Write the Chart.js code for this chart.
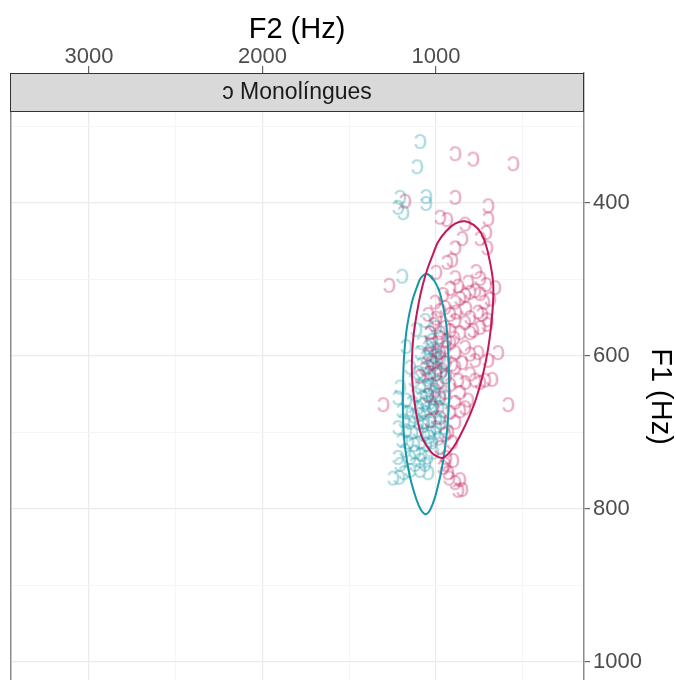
<!DOCTYPE html>
<html><head><meta charset="utf-8">
<style>html,body{margin:0;padding:0;background:#fff;overflow:hidden}#wrap{width:676px;height:720px;position:relative}</style>
<script src="https://cdn.jsdelivr.net/npm/chart.js@4/dist/chart.umd.min.js"></script>
</head><body><div id="wrap"><canvas id="c"></canvas></div>
<script>
const panelTitle = 'ɔ Monolíngues';
const xTitle = 'F2 (Hz)';
const yTitle = 'F1 (Hz)';
const xTickLabels = [1000, 2000, 3000];
const xGridValues = [500, 1000, 1500, 2000, 2500, 3000];
const yTickLabels = [400, 600, 800, 1000];
const yGridValues = [300, 400, 500, 600, 700, 800, 900, 1000];
const xLimits = [147, 3455];
const yLimits = [230.1, 1075.9];

// group 1 (pink)
const pinkF2 = [890,787,556,890,700,1179,977,937,700,833,712,850,890,706,746,769,1271,1305,585,643,
1000,937,908,890,816,746,712,660,960,1006,890,862,833,804,775,746,723,689,919,873,
1046,1000,977,948,919,890,833,804,758,735,706,948,977,1035,919,862,804,787,746,706,1012,885,827,942,896,988,1035,
919,948,977,890,833,804,758,994,1023,1046,948,908,890,850,775,700,804,775,746,718,677,833,873,919,965,1000,1035,1063,1092,948,
862,890,833,816,948,977,919,862,1006,1046,1017,977,1035,
890,931,908,948,977,942,960,931,890,862,850,873,925,948,902];
const pinkF1 = [335,342,348,392,403,397,418,421,420,427,438,446,458,458,446,489,507,663,663,595,
490,477,474,497,503,498,506,510,519,529,529,524,520,516,514,518,529,525,511,508,
545,550,540,536,545,553,556,549,542,545,552,562,569,569,566,569,569,566,562,558,558,542,537,579,576,582,584,
582,588,595,595,588,597,595,603,608,597,608,610,614,608,605,605,623,631,634,631,630,634,631,637,618,623,621,616,626,627,
647,660,667,657,647,654,673,671,644,650,667,680,684,
686,699,712,702,719,732,745,752,765,761,774,775,759,741,736];

// group 2 (teal)
const tealF2 = [1092,1110,1208,1219,1190,1058,1058,1196,
1115,1173,1063,1035,1023,1000,977,1081,1046,
1092,1058,1029,1000,977,954,1012,1046,1081,1104,1069,1035,1000,971,942,988,1023,1058,1092,1127,1150,1208,
1115,1081,1046,1012,977,948,1035,1069,1104,1138,1173,1219,1196,1161,1127,1092,1058,1023,988,960,1000,1035,1069,1104,
1150,1184,1219,1173,1138,1104,1069,1035,1000,977,954,1092,1127,1161,1196,1058,1023,988,1121,1086,1052,1017,1179,1219,1150,1063,1092,
1248,1213,1184,1150,1121,1208,1092,1046,
1030,1010,1040,1005,1025,1050,995,1015,1060,1075,1040,1005];
const tealF1 = [319,352,392,405,412,391,400,495,
565,587,553,569,579,562,575,582,588,
595,601,597,592,601,608,610,614,610,621,623,627,623,621,627,634,637,638,640,631,614,640,
650,654,651,647,650,654,660,663,667,660,657,654,671,673,678,676,673,671,667,671,680,684,686,686,
686,684,693,697,699,697,702,699,693,686,693,712,715,712,710,715,712,707,725,728,732,725,723,732,732,741,736,
759,758,752,749,741,741,749,752,
605,600,640,655,665,630,615,590,660,690,705,700];

// ellipse outlines
const tealEllipseF2 = [1052,1012,983,965,942,931,925,925,937,960,994,1029,1058,1087,1115,1150,1179,1190,1190,1184,1167,1138,1110,1087];
const tealEllipseF1 = [493,501,514,529,556,588,628,660,699,739,775,799,807,801,786,758,719,680,641,601,562,529,510,498];
const pinkEllipseF2 = [833,781,741,712,689,671,671,683,700,729,769,810,856,902,960,1012,1040,1081,1110,1127,1138,1138,1127,1098,1075,1046,1017,988,942,890];
const pinkEllipseF1 = [424,429,439,455,477,503,529,562,591,624,656,680,702,720,733,729,722,706,680,654,627,601,569,529,506,484,467,451,437,427];

const tealColor = '#1597A7';
const pinkColor = '#C2185B';
const tealPoint = 'rgba(21,151,167,0.34)';
const pinkPoint = 'rgba(194,24,91,0.34)';
const FONT = '"Liberation Sans", Arial, Helvetica, sans-serif';

function pts(xs, ys){ return xs.map((x,i)=>({x:x, y:ys[i]})); }
function loop(xs, ys){
  const p = pts(xs, ys); const n = p.length;
  return [p[n-2], p[n-1]].concat(p, [p[0], p[1]]);
}
function glyph(color){
  const c = document.createElement('canvas'); c.width = 32; c.height = 32;
  const g = c.getContext('2d');
  g.font = '28px ' + FONT; g.fillStyle = color;
  const m = g.measureText('ɔ');
  const x = 16 - (m.actualBoundingBoxRight - m.actualBoundingBoxLeft)/2;
  const y = 16 + (m.actualBoundingBoxAscent - m.actualBoundingBoxDescent)/2;
  g.fillText('ɔ', x, y);
  return c;
}

const stripPlugin = {
  id: 'strip',
  afterDraw(chart){
    const {ctx, chartArea} = chart;
    const {left, right, top, bottom} = chartArea;
    const h = 38;
    ctx.save();
    ctx.fillStyle = '#D9D9D9';
    ctx.fillRect(left, top, right-left, h);
    ctx.strokeStyle = '#333333'; ctx.lineWidth = 1;
    ctx.strokeRect(left+0.5, top+0.5, right-left-1, h);
    ctx.fillStyle = '#1A1A1A';
    ctx.font = '23px ' + FONT;
    ctx.textAlign = 'center'; ctx.textBaseline = 'middle';
    ctx.fillText(panelTitle, (left+right)/2, top + h/2 + 1);
    ctx.strokeStyle = '#8C8C8C'; ctx.lineWidth = 1.5;
    ctx.beginPath(); ctx.moveTo(left+0.75, top+h+1); ctx.lineTo(left+0.75, bottom); ctx.stroke();
    ctx.restore();
  }
};

const isMajorX = v => xTickLabels.includes(v);
const isMajorY = v => yTickLabels.includes(v);

new Chart(document.getElementById('c'), {
  type: 'scatter',
  data: { datasets: [
    { label: 'elipse 1', data: loop(pinkEllipseF2, pinkEllipseF1), showLine: true, borderColor: pinkColor, borderWidth: 2, pointRadius: 0, tension: 0.4, fill: false, order: 0 },
    { label: 'elipse 2', data: loop(tealEllipseF2, tealEllipseF1), showLine: true, borderColor: tealColor, borderWidth: 2, pointRadius: 0, tension: 0.4, fill: false, order: 0 },
    { label: 'grupo 1', data: pts(pinkF2, pinkF1), pointStyle: glyph(pinkPoint), pointRadius: 10, order: 1 },
    { label: 'grupo 2', data: pts(tealF2, tealF1), pointStyle: glyph(tealPoint), pointRadius: 10, order: 1 }
  ]},
  options: {
    responsive: true, maintainAspectRatio: false, devicePixelRatio: 1,
    animation: false, events: [],
    layout: { autoPadding: false, padding: { left: 10, right: 0, top: 0, bottom: 0 } },
    plugins: { legend: { display: false }, tooltip: { enabled: false } },
    scales: {
      x: {
        type: 'linear', position: 'top', reverse: true,
        min: xLimits[0], max: xLimits[1],
        afterBuildTicks: s => { s.ticks = xGridValues.map(v => ({value: v})); },
        afterFit: s => { s.height = 73; s.paddingLeft = 0; s.paddingRight = 0; },
        ticks: { autoSkip: false, maxRotation: 0, padding: -4, color: '#4D4D4D', font: { family: FONT, size: 22 },
          callback: v => isMajorX(v) ? String(v) : '' },
        grid: {
          color: c => isMajorX(c.tick.value) ? '#EBEBEB' : '#F4F4F4',
          lineWidth: c => isMajorX(c.tick.value) ? 1.2 : 0.9,
          tickColor: c => isMajorX(c.tick.value) ? '#666666' : 'rgba(0,0,0,0)',
          tickLength: 7, tickWidth: 1.2
        },
        border: { display: false },
        title: { display: true, text: xTitle, color: '#000', font: { family: FONT, size: 29, lineHeight: 1 }, padding: { top: 15, bottom: 0 } }
      },
      y: {
        type: 'linear', position: 'right', reverse: true,
        min: yLimits[0], max: yLimits[1],
        afterBuildTicks: s => { s.ticks = yGridValues.map(v => ({value: v})); },
        afterFit: s => { s.width = 92; s.paddingTop = 0; s.paddingBottom = 0; },
        ticks: { autoSkip: false, padding: 3, color: '#4D4D4D', font: { family: FONT, size: 22 },
          callback: v => isMajorY(v) ? String(v) : '' },
        grid: {
          color: c => isMajorY(c.tick.value) ? '#EBEBEB' : '#F4F4F4',
          lineWidth: c => isMajorY(c.tick.value) ? 1.2 : 0.9,
          tickColor: c => isMajorY(c.tick.value) ? '#666666' : 'rgba(0,0,0,0)',
          tickLength: 6, tickWidth: 1.2
        },
        border: { display: true, color: '#8C8C8C', width: 1.5 },
        title: { display: true, text: yTitle, color: '#000', font: { family: FONT, size: 29, lineHeight: 1 }, padding: { top: 1.5, bottom: 0 } }
      }
    }
  },
  plugins: [stripPlugin]
});
</script>
</body></html>
